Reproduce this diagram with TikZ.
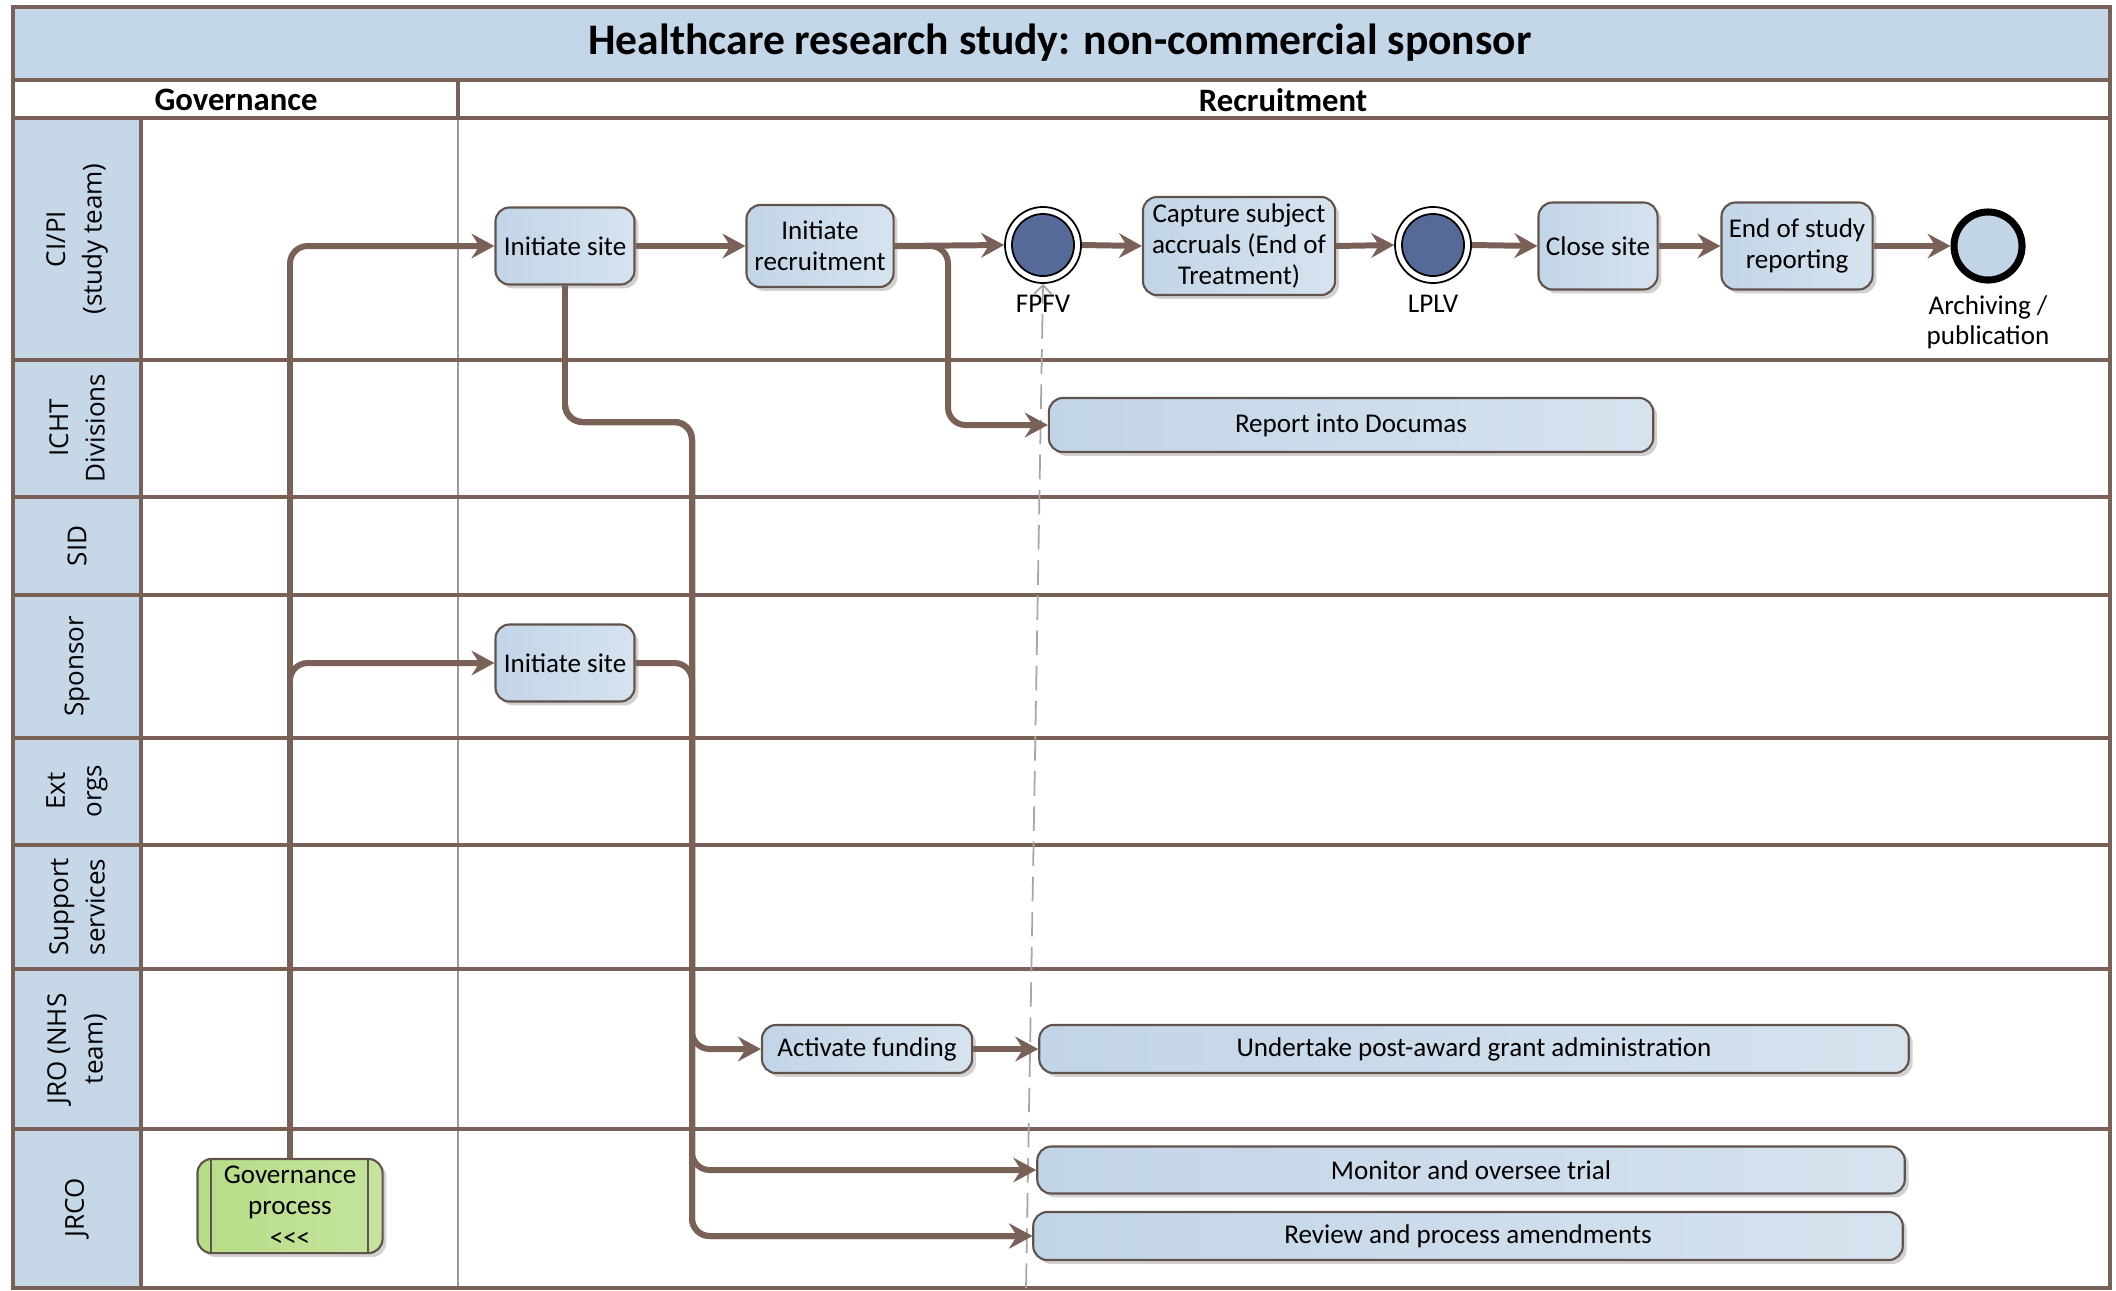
\documentclass[tikz,border=0pt]{standalone}
\usepackage{fontspec}
\setmainfont{Carlito}
\newfontfamily\lanefont{Open Sans}
\usetikzlibrary{arrows.meta,shadows,positioning}

\definecolor{brownline}{RGB}{122,97,88}
\definecolor{boxedge}{RGB}{98,82,76}
\definecolor{boxblue}{RGB}{194,213,231}
\definecolor{boxblue2}{RGB}{214,227,239}
\definecolor{laneblue}{RGB}{198,215,232}
\definecolor{titleblue}{RGB}{196,215,233}
\definecolor{govgreen}{RGB}{182,221,134}
\definecolor{eventblue}{RGB}{86,106,154}

\begin{document}
\begin{tikzpicture}[x=0.01cm,y=-0.01cm,
    task/.style={draw=boxedge,line width=0.6pt,rounded corners=4pt,
      left color=boxblue,right color=boxblue2,align=center,inner sep=0pt,
      font=\fontsize{7.7}{8.9}\selectfont,
      drop shadow={shadow xshift=1.1pt,shadow yshift=-1.1pt,fill=gray!60,opacity=.6}},
    govbox/.style={task,left color=govgreen,right color=govgreen!80!white},
    evring/.style={circle,draw=black,line width=0.5pt,fill=white,minimum size=0.76cm,inner sep=0pt},
    evcore/.style={circle,draw=black,line width=0.5pt,fill=eventblue,minimum size=0.62cm,inner sep=0pt},
    endev/.style={circle,draw=black,line width=2pt,fill=boxblue,minimum size=0.68cm,inner sep=0pt},
    evlabel/.style={align=center,font=\fontsize{7.7}{8.6}\selectfont},
    lanelabel/.style={rotate=90,align=center,font=\lanefont\fontsize{7.4}{10.4}\selectfont},
    flow/.style={draw=brownline,line width=1.7pt,rounded corners=5pt,
      -{Stealth[length=6.5pt,width=7pt,inset=2.2pt]}},
    assoc/.style={draw=gray!70,line width=0.5pt,dash pattern=on 7pt off 3pt,
      -{Straight Barb[length=2.5pt,width=5pt]}},
    divider/.style={draw=brownline,line width=0.9pt}
  ]
  \useasboundingbox (0,0) rectangle (2116,1290);

  % pool frame, title and phases
  \fill[titleblue] (13,7) rectangle (2110,80);
  \fill[laneblue] (13,118) rectangle (141,1288);
  \node[font=\bfseries\fontsize{12.4}{14}\selectfont] (title) at (1060,43) {Healthcare research study: non-commercial sponsor};
  \node[font=\bfseries\fontsize{9.3}{11}\selectfont] (phgov) at (236,100) {Governance};
  \node[font=\bfseries\fontsize{9.3}{11}\selectfont] (phrec) at (1283,100) {Recruitment};
  \draw[draw=gray!80,line width=0.5pt] (458,118) -- (458,1288);
  \draw[divider] (458,80) -- (458,118);
  \draw[divider,line width=1.2pt] (13,80) -- (2110,80);
  \draw[divider] (13,118) -- (2110,118);
  \draw[divider] (141,118) -- (141,1288);
  \foreach \y in {360,497,595,738,845,969,1129}
    \draw[divider] (13,\y) -- (2110,\y);
  \draw[divider,line width=1.2pt] (13,7) rectangle (2110,1288);

  % lanes
  \node[lanelabel] (lcipi) at (77,239) {CI/PI\\(study team)};
  \node[lanelabel] (licht) at (77,428) {ICHT\\Divisions};
  \node[lanelabel] (lsid) at (77,546) {SID};
  \node[lanelabel] (lspon) at (77,666) {Sponsor};
  \node[lanelabel] (lext) at (77,791) {Ext\\orgs};
  \node[lanelabel] (lsupp) at (77,907) {Support\\services};
  \node[lanelabel] (ljro) at (77,1049) {JRO (NHS\\team)};
  \node[lanelabel] (ljrco) at (77,1208) {JRCO};

  % tasks and events
  \node[task,minimum width=1.39cm,minimum height=0.77cm] (ciinit) at (565,246) {Initiate site};
  \node[task,minimum width=1.47cm,minimum height=0.82cm] (recruit) at (820,246) {Initiate\\recruitment};
  \node[evring] (fpfv) at (1043,245) {};
  \node[evcore] (fpfvcore) at (fpfv) {};
  \node[evlabel] (fpfvlab) at (1043,304) {FPFV};
  \node[task,minimum width=1.92cm,minimum height=0.98cm] (accrual) at (1239,246) {Capture subject\\accruals (End of\\Treatment)};
  \node[evring] (lplv) at (1433,245) {};
  \node[evcore] (lplvcore) at (lplv) {};
  \node[evlabel] (lplvlab) at (1433,304) {LPLV};
  \node[task,minimum width=1.19cm,minimum height=0.87cm] (close) at (1598,246) {Close site};
  \node[task,minimum width=1.51cm,minimum height=0.87cm] (eos) at (1797,246) {End of study\\reporting};
  \node[endev] (archive) at (1988,246) {};
  \node[evlabel] (archlab) at (1988,322) {Archiving /\\publication};
  \node[task,minimum width=6.04cm,minimum height=0.54cm] (documas) at (1351,425) {Report into Documas};
  \node[task,minimum width=1.39cm,minimum height=0.77cm] (spinit) at (565,663) {Initiate site};
  \node[task,minimum width=2.10cm,minimum height=0.48cm] (fund) at (867,1049) {Activate funding};
  \node[task,minimum width=8.69cm,minimum height=0.48cm] (grant) at (1474,1049) {Undertake post-award grant administration};
  \node[task,minimum width=8.67cm,minimum height=0.47cm] (monitor) at (1471,1170) {Monitor and oversee trial};
  \node[task,minimum width=8.69cm,minimum height=0.48cm] (amend) at (1468,1236) {Review and process amendments};
  \node[govbox,minimum width=1.85cm,minimum height=0.94cm] (gov) at (290,1206) {Governance\\process\\<\kern0pt<\kern0pt<};
  \draw[draw=boxedge,line width=0.6pt] ([xshift=0.15cm]gov.north west) -- ([xshift=0.15cm]gov.south west);
  \draw[draw=boxedge,line width=0.6pt] ([xshift=-0.16cm]gov.north east) -- ([xshift=-0.16cm]gov.south east);

  % flows
  \coordinate (jdoc) at (948,246);
  \coordinate (jbus) at (692,422);
  \coordinate (jsp) at (692,663);
  \coordinate (dashend) at (1026,1288);
  \draw[assoc] (dashend) -- (fpfv.south);
  \draw[flow] (gov.north) |- (ciinit.west);
  \draw[flow] (gov.north) |- (spinit.west);
  \draw[flow] (ciinit.east) -- (recruit.west);
  \draw[flow] (recruit.east) -- (fpfv.west);
  \draw[flow] (recruit.east) -- (jdoc) |- (documas.west);
  \draw[flow] (fpfv.east) -- (accrual.west);
  \draw[flow] (accrual.east) -- (lplv.west);
  \draw[flow] (lplv.east) -- (close.west);
  \draw[flow] (close.east) -- (eos.west);
  \draw[flow] (eos.east) -- (archive.west);
  \draw[flow] (ciinit.south) |- (jbus) |- (fund.west);
  \draw[flow] (ciinit.south) |- (jbus) |- (monitor.west);
  \draw[flow] (ciinit.south) |- (jbus) |- (amend.west);
  \draw[flow] (spinit.east) -- (jsp) |- (amend.west);
  \draw[flow] (fund.east) -- (grant.west);
\end{tikzpicture}
\end{document}
